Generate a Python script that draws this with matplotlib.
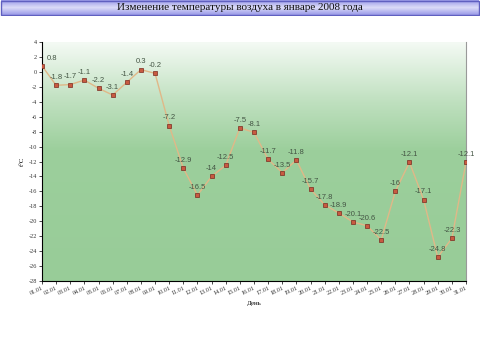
import matplotlib
matplotlib.use("Agg")
import matplotlib.pyplot as plt
import numpy as np
from matplotlib.patches import Rectangle
from matplotlib.colors import LinearSegmentedColormap

days = [f"{d:02d}.01" for d in range(1, 32)]
temps = [0.8, -1.8, -1.7, -1.1, -2.2, -3.1, -1.4, 0.3, -0.2, -7.2, -12.9, -16.5,
         -14, -12.5, -7.5, -8.1, -11.7, -13.5, -11.8, -15.7, -17.8, -18.9, -20.1,
         -20.6, -22.5, -16, -12.1, -17.1, -24.8, -22.3, -12.1]
labels = ["0.8", "-1.8", "-1.7", "-1.1", "-2.2", "-3.1", "-1.4", "0.3", "-0.2", "-7.2",
          "-12.9", "-16.5", "-14", "-12.5", "-7.5", "-8.1", "-11.7", "-13.5", "-11.8",
          "-15.7", "-17.8", "-18.9", "-20.1", "-20.6", "-22.5", "-16", "-12.1", "-17.1",
          "-24.8", "-22.3", "-12.1"]
yticks = list(range(-28, 5, 2))
title = "Изменение температуры воздуха в январе 2008 года"

plt.rcParams['font.family'] = ['Liberation Serif', 'DejaVu Serif']

fig = plt.figure(figsize=(4.8, 3.52), dpi=100)
fig.patch.set_facecolor('white')

# title bar
tb = fig.add_axes([0, 1 - 16/352, 1, 16/352])
tb.set_xlim(0, 1); tb.set_ylim(0, 1); tb.axis('off')
grad = np.linspace(0, 1, 50).reshape(-1, 1)
tcmap = LinearSegmentedColormap.from_list('t', ['#9a9ae8', '#dcdcf8', '#9a9ae8'])
tb.imshow(grad, aspect='auto', cmap=tcmap, extent=[0.003, 0.997, 0.05, 0.95], origin='lower')
tb.add_patch(Rectangle((0.003, 0.05), 0.994, 0.9, fill=False, edgecolor='#6060c0', lw=1))
tb.text(0.5, 0.5, title, ha='center', va='center', fontsize=8, color='#111111')

ax = fig.add_axes([42/480, 1 - 281/352, (466 - 42)/480, (281 - 42)/352])
x = np.arange(len(days))
ax.set_xlim(0, len(days) - 1)
ax.set_ylim(-28, 4)

# gradient background
gcmap = LinearSegmentedColormap.from_list('g', [(0, '#98cc98'), (0.55, '#9ccf9c'), (0.75, '#bfe0bf'), (1.0, '#f4faf4')])
g = np.linspace(0, 1, 256).reshape(-1, 1)
ax.imshow(g, aspect='auto', cmap=gcmap, extent=[0, len(days) - 1, -28, 4], origin='lower', zorder=0)

ax.plot(x, temps, color='#e0b888', lw=1, zorder=2)
ax.plot(x, temps, ls='none', marker='s', ms=3.2, mfc='#c85a40', mec='#7a2a20', mew=0.5, zorder=3)
for i, (xi, yi, lb) in enumerate(zip(x, temps, labels)):
    off = (7, 3) if i == 0 else (0, 3)
    ax.annotate(lb, (xi, yi), xytext=off, textcoords='offset points', ha='center', va='bottom',
                fontsize=5.5, color='#445544', zorder=4, annotation_clip=False,
                family=['Liberation Sans', 'DejaVu Sans'])

ax.set_yticks(yticks)
ax.set_yticklabels([str(v) for v in yticks], fontsize=4.5, color='#333333')
ax.set_xticks(x)
ax.set_xticklabels(days, fontsize=4.5, rotation=25, ha='right', rotation_mode='anchor', color='#333333')
ax.tick_params(axis='both', length=2, width=0.5, pad=1.5)
ax.spines['top'].set_visible(False)
ax.spines['right'].set_color('#999999')
ax.spines['left'].set_linewidth(0.8)
ax.spines['bottom'].set_linewidth(0.8)
ax.set_ylabel('t°C', fontsize=5, labelpad=3)
ax.set_xlabel('День', fontsize=5, labelpad=3)

fig.savefig('out.png', dpi=100)
